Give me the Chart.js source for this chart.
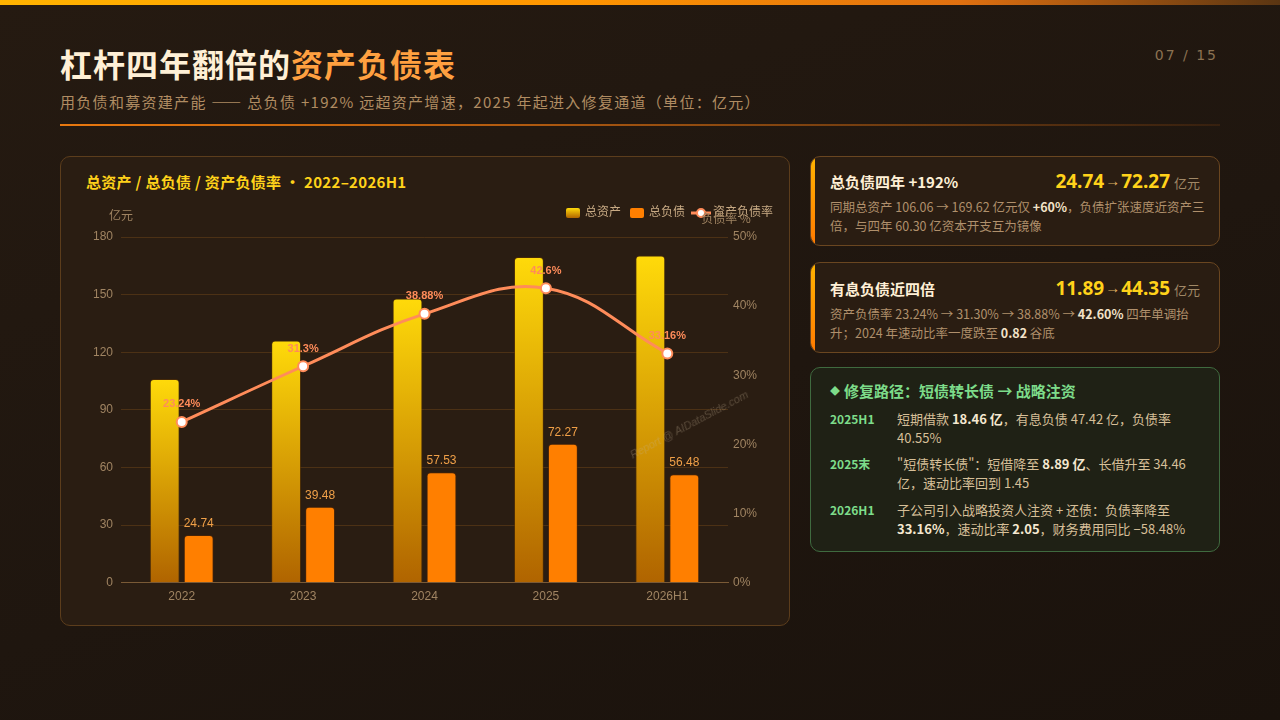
<!DOCTYPE html>
<html lang="zh-CN">
<head>
<meta charset="utf-8">
<script src="https://cdn.jsdelivr.net/npm/chart.js@4.4.1/dist/chart.umd.min.js"></script>
<style>
  * { margin: 0; padding: 0; box-sizing: border-box; }
  body {
    width: 1280px; height: 720px; overflow: hidden; position: relative;
    font-family: "Noto Sans CJK SC", "Noto Sans", sans-serif;
    background: linear-gradient(160deg, #251a11 0%, #1f160f 55%, #1a120c 100%);
    color: #e8d5b5;
  }
  .topbar { position: absolute; left: 0; top: 0; width: 1280px; height: 5px;
    background: linear-gradient(90deg, #ffb300 0%, #ff9500 45%, #e07010 75%, #5a3512 100%); }
  .title { position: absolute; left: 60px; top: 40px; font-size: 32px; font-weight: 700; color: #fff0d6; letter-spacing: 1px; }
  .title span { color: #ffa040; }
  .page { position: absolute; right: 62px; top: 47px; font-size: 14px; color: #8c7252; letter-spacing: 2px; font-family: "DejaVu Sans", sans-serif; }
  .subtitle { position: absolute; left: 60px; top: 91px; font-size: 15px; color: #b08c62; letter-spacing: 1.3px; }
  .divider { position: absolute; left: 60px; top: 124px; width: 1160px; height: 2px;
    background: linear-gradient(90deg, #e8780f 0%, #b05a10 40%, rgba(120,60,15,0.25) 100%); }
  .panel { position: absolute; left: 60px; top: 156px; width: 730px; height: 470px;
    background: #2a1d12; border: 1px solid #5c3d1c; border-radius: 10px; }
  .panel h3 { position: absolute; left: 25px; top: 14px; font-size: 15px; font-weight: 700; color: #ffd21a; letter-spacing: 0.3px; }
  .chartbox { position: absolute; left: 24px; top: 40px; width: 698px; height: 414px; }
  .watermark { position: absolute; left: 628px; top: 450px; font-size: 11px; color: rgba(200,180,150,0.3);
    transform: rotate(-28deg); transform-origin: left top; font-family: "Liberation Sans", sans-serif; font-style: italic; white-space: nowrap; }
  .card { position: absolute; left: 810px; width: 410px; border-radius: 10px;
    background: #2a1d12; border: 1px solid #6a4620; overflow: hidden; }
  .card::before { content: ""; position: absolute; left: 0; top: 0; bottom: 0; width: 4px;
    background: linear-gradient(180deg, #ffb300, #ff7a00); }
  .card .head { position: absolute; left: 19px; top: 14px; font-size: 15px; font-weight: 700; color: #fff0d6; }
  .card .big { position: absolute; right: 19px; top: 11px; font-size: 19px; font-weight: 700; color: #ffd21a; font-family: "Noto Sans", sans-serif; }
  .card .big small { font-size: 13px; font-weight: 400; color: #a08866; margin-left: 4px; }
  .card .big i { font-style: normal; font-size: 15px; color: #e0b060; font-weight: 400; vertical-align: 2px; margin: 0 1px; }
  .card .body { position: absolute; left: 19px; top: 40px; right: 10px; font-size: 12.5px; line-height: 19px; color: #b0906c; }
  .card .body b { color: #f2e2c8; }
  .green { position: absolute; left: 810px; top: 367px; width: 410px; height: 185px; border-radius: 10px;
    background: #1f2115; border: 1px solid #3f6a3f; }
  .green .gh { position: absolute; left: 19px; top: 12px; font-size: 15px; font-weight: 700; color: #7ddc8a; }
  .green .gh em { font-style: normal; font-size: 10px; vertical-align: 2px; margin-right: 4px; }
  .row { position: absolute; left: 19px; right: 16px; font-size: 13px; line-height: 19px; color: #d6bf98; }
  .row .lbl { position: absolute; left: 0; top: 0; width: 66px; font-size: 12px; font-weight: 700; color: #7ddc8a; }
  .row .txt { margin-left: 67px; }
  .row b { color: #f5e8d0; }
</style>
</head>
<body>
<div class="topbar"></div>
<div class="title">杠杆四年翻倍的<span>资产负债表</span></div>
<div class="page">07 / 15</div>
<div class="subtitle">用负债和募资建产能 —— 总负债 +192% 远超资产增速，2025 年起进入修复通道（单位：亿元）</div>
<div class="divider"></div>

<div class="panel">
  <h3>总资产 / 总负债 / 资产负债率 · 2022–2026H1</h3>
  <div class="chartbox"><canvas id="balanceChart"></canvas></div>
</div>
<div class="watermark">Report @ AIDataSlide.com</div>

<div class="card" style="top:156px;height:90px;">
  <div class="head">总负债四年 +192%</div>
  <div class="big">24.74<i>→</i>72.27<small>亿元</small></div>
  <div class="body">同期总资产 106.06 → 169.62 亿元仅 <b>+60%</b>，负债扩张速度近资产三倍，与四年 60.30 亿资本开支互为镜像</div>
</div>
<div class="card" style="top:262px;height:91px;">
  <div class="head" style="top:15px;">有息负债近四倍</div>
  <div class="big" style="top:12px;">11.89<i>→</i>44.35<small>亿元</small></div>
  <div class="body" style="top:41px;">资产负债率 23.24% → 31.30% → 38.88% → <b>42.60%</b> 四年单调抬升；2024 年速动比率一度跌至 <b>0.82</b> 谷底</div>
</div>
<div class="green">
  <div class="gh"><em>◆</em>修复路径：短债转长债 → 战略注资</div>
  <div class="row" style="top:41px;"><div class="lbl">2025H1</div><div class="txt">短期借款 <b>18.46 亿</b>，有息负债 47.42 亿，负债率 40.55%</div></div>
  <div class="row" style="top:86px;"><div class="lbl">2025末</div><div class="txt">"短债转长债"：短借降至 <b>8.89 亿</b>、长借升至 34.46 亿，速动比率回到 1.45</div></div>
  <div class="row" style="top:132px;"><div class="lbl">2026H1</div><div class="txt">子公司引入战略投资人注资 + 还债：负债率降至 <b>33.16%</b>，速动比率 <b>2.05</b>，财务费用同比 −58.48%</div></div>
</div>

<script>
const years = ["2022", "2023", "2024", "2025", "2026H1"];
const totalAssets = [106.06, 126.13, 147.97, 169.62, 170.33];
const totalLiabilities = [24.74, 39.48, 57.53, 72.27, 56.48];
const debtRatio = [23.24, 31.3, 38.88, 42.6, 33.16];
const ratioLabels = ["23.24%", "31.3%", "38.88%", "42.6%", "33.16%"];

const tickColor = "#a08462";
const gridColor = "rgba(140,90,30,0.35)";

function assetGradient(context) {
  const chart = context.chart;
  if (!chart.chartArea || context.dataIndex === undefined) return "#e0a800";
  const y = chart.scales.y;
  const top = y.getPixelForValue(totalAssets[context.dataIndex]);
  const bottom = y.getPixelForValue(0);
  const g = chart.ctx.createLinearGradient(0, top, 0, bottom);
  g.addColorStop(0, "#ffda0a");
  g.addColorStop(1, "#b06400");
  return g;
}

function legendIcon(kind) {
  const c = document.createElement("canvas");
  c.width = kind === "line" ? 20 : 14;
  c.height = 12;
  const x = c.getContext("2d");
  if (kind === "line") {
    x.strokeStyle = "#ff8c5a"; x.lineWidth = 3;
    x.beginPath(); x.moveTo(0, 6); x.lineTo(20, 6); x.stroke();
    x.fillStyle = "#fff"; x.beginPath(); x.arc(10, 6, 4, 0, Math.PI * 2); x.fill();
    x.lineWidth = 2; x.stroke();
  } else {
    if (kind === "asset") {
      const g = x.createLinearGradient(0, 1, 0, 11);
      g.addColorStop(0, "#ffda0a"); g.addColorStop(1, "#b06400");
      x.fillStyle = g;
    } else {
      x.fillStyle = "#ff7f00";
    }
    x.beginPath(); x.roundRect(0, 1, 14, 10, 2); x.fill();
  }
  return c;
}
const icons = [legendIcon("asset"), legendIcon("liab"), legendIcon("line")];

// extra room under the legend
const legendGap = {
  id: "legendGap",
  beforeInit(chart) {
    const fit = chart.legend.fit;
    chart.legend.fit = function () {
      fit.bind(chart.legend)();
      this.height += 8;
    };
  }
};

const valueLabels = {
  id: "valueLabels",
  afterDatasetsDraw(chart) {
    const ctx = chart.ctx;
    ctx.save();
    ctx.textAlign = "center";
    ctx.textBaseline = "bottom";
    chart.getDatasetMeta(1).data.forEach((bar, i) => {
      ctx.font = "12px 'Liberation Sans', Arial, sans-serif";
      ctx.fillStyle = "#f0a048";
      ctx.fillText(totalLiabilities[i].toFixed(2), bar.x, bar.y - 5);
    });
    chart.getDatasetMeta(2).data.forEach((pt, i) => {
      ctx.font = "bold 11px 'Liberation Sans', Arial, sans-serif";
      ctx.fillStyle = "#ff8c5a";
      ctx.fillText(ratioLabels[i], pt.x, pt.y - 12);
    });
    // axis unit captions
    const a = chart.chartArea;
    ctx.font = "12px 'Noto Sans CJK SC', sans-serif";
    ctx.fillStyle = tickColor;
    ctx.textBaseline = "middle";
    ctx.fillText("亿元", a.left, a.top - 22);
    ctx.fillText("负债率 %", a.right - 2, a.top - 19);
    ctx.restore();
  }
};

new Chart(document.getElementById("balanceChart"), {
  type: "bar",
  data: {
    labels: years,
    datasets: [
      {
        label: "总资产",
        data: totalAssets,
        backgroundColor: assetGradient,
        borderColor: "rgba(90,50,0,0.6)",
        borderWidth: 1,
        borderRadius: 4,
        borderSkipped: "bottom",
        categoryPercentage: 0.56,
        barPercentage: 0.88,
        yAxisID: "y",
        order: 2,
      },
      {
        label: "总负债",
        data: totalLiabilities,
        backgroundColor: "#ff7f00",
        borderColor: "rgba(90,40,0,0.6)",
        borderWidth: 1,
        borderRadius: 4,
        borderSkipped: "bottom",
        categoryPercentage: 0.56,
        barPercentage: 0.88,
        yAxisID: "y",
        order: 2,
      },
      {
        type: "line",
        label: "资产负债率",
        data: debtRatio,
        borderColor: "#ff8c5a",
        borderWidth: 3,
        tension: 0.4,
        pointRadius: 5,
        pointBorderWidth: 2,
        pointBackgroundColor: "#ffffff",
        pointBorderColor: "#ff8c5a",
        yAxisID: "y1",
        order: 1,
      },
    ],
  },
  options: {
    responsive: true,
    maintainAspectRatio: false,
    animation: false,
    plugins: {
      legend: {
        position: "top",
        align: "end",
        labels: {
          color: "#c8aa84",
          font: { size: 12 },
          usePointStyle: true,
          boxHeight: 12,
          padding: 10,
          generateLabels(chart) {
            return chart.data.datasets.map((ds, i) => ({
              text: ds.label,
              fontColor: "#c8aa84",
              pointStyle: icons[i],
              datasetIndex: i,
              hidden: false,
              lineWidth: 0,
            }));
          },
        },
      },
      tooltip: { enabled: false },
    },
    scales: {
      x: {
        grid: { display: false, drawTicks: false },
        border: { color: "#7a5a36" },
        ticks: { color: tickColor, font: { size: 12 }, padding: 7 },
      },
      y: {
        position: "left",
        min: 0,
        max: 180,
        ticks: { stepSize: 30, color: tickColor, font: { size: 12 }, padding: 8 },
        grid: { color: gridColor, drawTicks: false },
        border: { display: false },
      },
      y1: {
        position: "right",
        min: 0,
        max: 50,
        ticks: { stepSize: 10, color: tickColor, font: { size: 12 }, padding: 5, callback: v => v + "%" },
        grid: { display: false, drawTicks: false },
        border: { display: false },
        afterFit(scale) { scale.width = 55; },
      },
    },
  },
  plugins: [legendGap, valueLabels],
});
</script>
</body>
</html>
